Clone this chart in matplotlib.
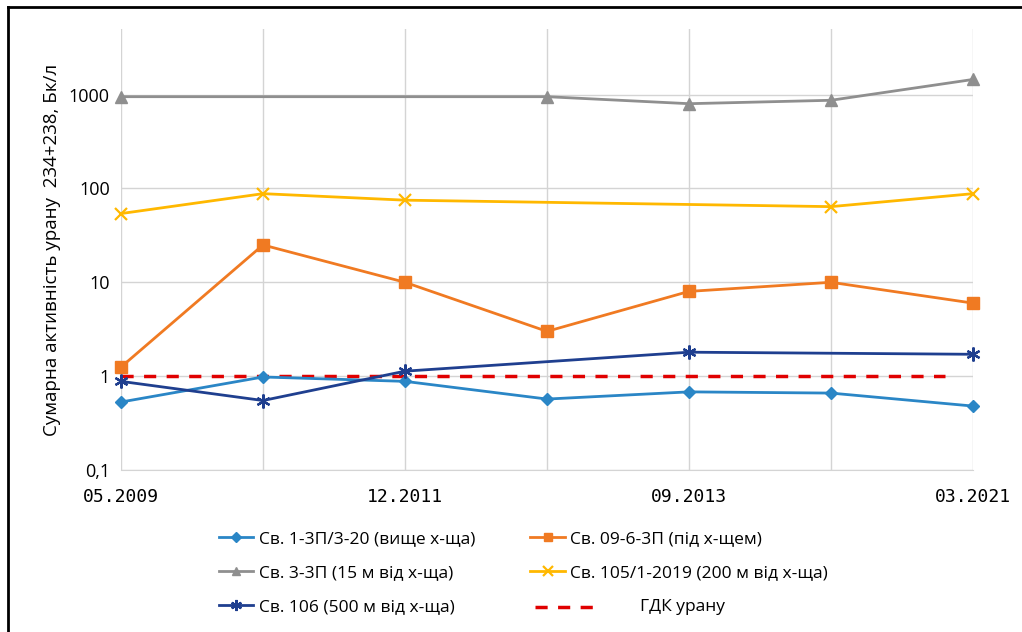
import numpy as np
import matplotlib
matplotlib.use('Agg')
import matplotlib.pyplot as plt
from matplotlib.lines import Line2D

plt.rcParams['font.family'] = ['Open Sans', 'DejaVu Sans']

# ── дані ──────────────────────────────────────────────────────
dates = ['05.2009', '', '12.2011', '', '09.2013', '', '03.2021']
nan = np.nan
sv_1_3p = [0.53, 0.98, 0.88, 0.57, 0.68, 0.66, 0.48]
sv_09_6 = [1.25, 25.0, 10.0, 3.0, 8.0, 10.0, 6.0]
sv_3_3p = [950, nan, nan, 950, 800, 870, 1450]
sv_105 = [54, 88, 75, nan, nan, 64, 88]
sv_106 = [0.88, 0.55, 1.13, nan, 1.8, nan, 1.71]
gdk = [1.0, 1.0]

asterisk = (6, 2, 0)
series = [
    (sv_1_3p, 'Св. 1-3П/3-20 (вище х-ща)', '#2a86c6', 'D', 6),
    (sv_3_3p, 'Св. 3-3П (15 м від х-ща)', '#8f8f8f', '^', 8),
    (sv_106, 'Св. 106 (500 м від х-ща)', '#1f3f8f', asterisk, 10),
    (sv_09_6, 'Св. 09-6-3П (під х-щем)', '#f07a22', 's', 8),
    (sv_105, 'Св. 105/1-2019 (200 м від х-ща)', '#ffb800', 'x', 9),
]

fig = plt.figure(figsize=(10.22, 6.32), dpi=100)
ax = fig.add_axes([121 / 1022, 1 - 470 / 632, 852 / 1022, 441 / 632])

x = np.arange(len(dates))
handles = []
for vals, label, col, mk, ms in series:
    v = np.array(vals, dtype=float)
    ok = ~np.isnan(v)
    # лінія з'єднує наявні точки, пропуски не розривають лінію
    ax.plot(x[ok], v[ok], color=col, linewidth=2.0, zorder=3)
    mew = 1.6 if mk in ('x', asterisk) else 1
    ax.plot(x[ok], v[ok], linestyle='none', marker=mk, markersize=ms,
            color=col, markeredgewidth=mew, clip_on=False, zorder=4)
    handles.append(Line2D([], [], color=col, linewidth=2.0, marker=mk,
                          markersize=ms * 0.8, markeredgewidth=mew, label=label))

# ГДК урану
ax.plot([0, 5.8], gdk, color='#e00000', linestyle=(0, (3.5, 3)), linewidth=2.5, zorder=2)

ax.set_yscale('log')
ax.set_ylim(0.1, 5000)
ax.set_xlim(0, 6)
ax.set_yticks([0.1, 1, 10, 100, 1000])
ax.set_yticklabels(['0,1', '1', '10', '100', '1000'], fontsize=13)
ax.yaxis.set_minor_locator(matplotlib.ticker.NullLocator())
ax.set_xticks(x)
ax.set_xticklabels(dates, fontsize=13, family='DejaVu Sans Mono')
ax.tick_params(length=0, pad=8)
ax.tick_params(axis='x', pad=13)
ax.grid(True, color='#d4d4d4', linewidth=1)
for s in ['top', 'left', 'right']:
    ax.spines[s].set_visible(False)
ax.spines['bottom'].set_color('#d4d4d4')
ax.set_axisbelow(True)
ax.set_ylabel('Сумарна активність урану  234+238, Бк/л', fontsize=13.5, labelpad=6)

fig.legend(handles=handles, ncol=2, frameon=False, fontsize=12.5,
           loc='upper left', bbox_to_anchor=(203 / 1022, 1 - 515 / 632),
           handlelength=2.0, handletextpad=0.3, columnspacing=3.2,
           labelspacing=1.05)

# окремий рядок легенди для ГДК
fig.add_artist(Line2D([535 / 1022, 595 / 1022], [1 - 607 / 632] * 2,
                      color='#e00000', linestyle=(0, (3.5, 3)), linewidth=2.5))
fig.text(640 / 1022, 1 - 607 / 632, 'ГДК урану', fontsize=12.5, va='center')

# рамка
fig.add_artist(Line2D([8 / 1022, 8 / 1022], [0, 1 - 7 / 632], color='black', linewidth=2))
fig.add_artist(Line2D([8 / 1022, 1], [1 - 7 / 632] * 2, color='black', linewidth=2))

fig.savefig('out.png', dpi=100, facecolor='white')
